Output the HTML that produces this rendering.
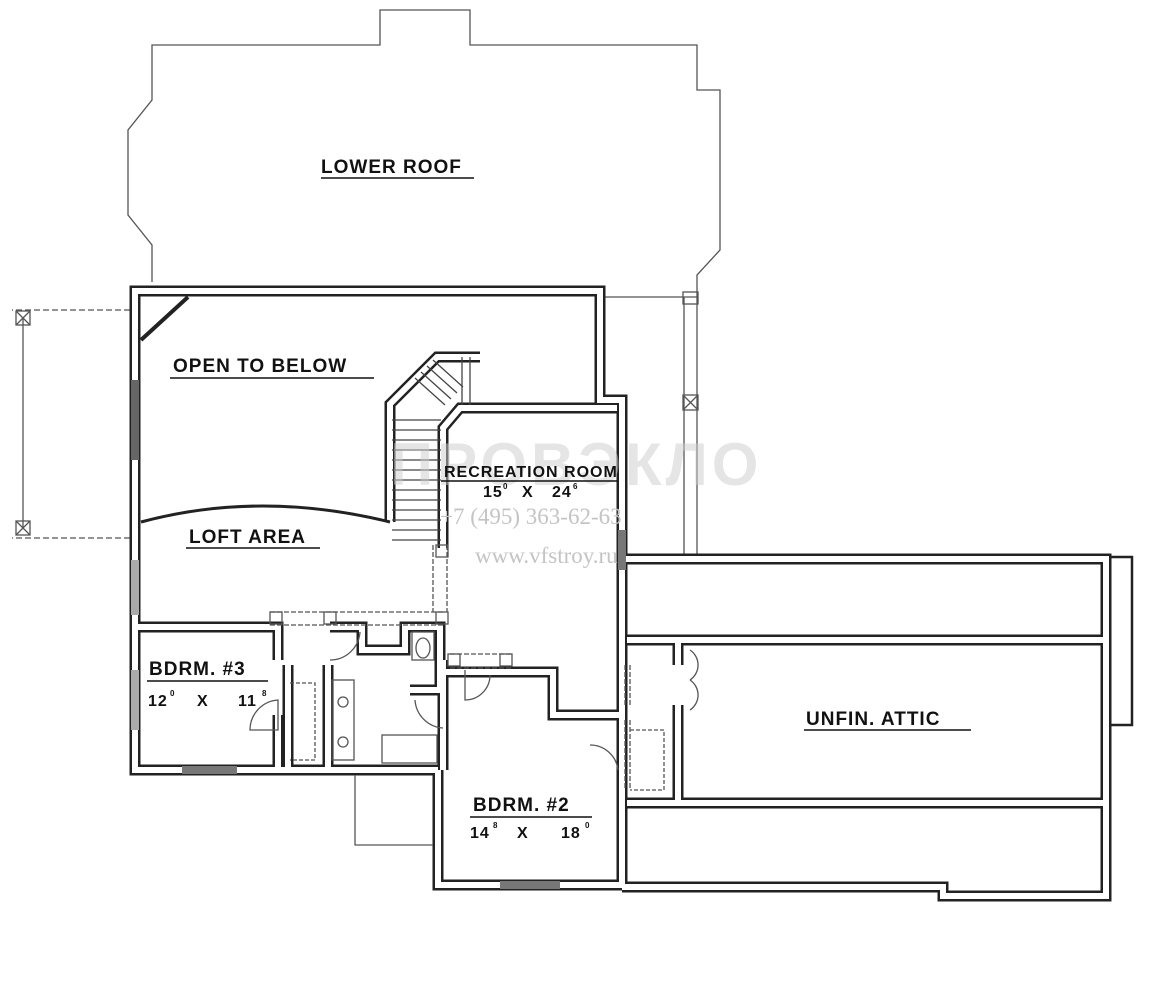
<!DOCTYPE html>
<html><head><meta charset="utf-8"><style>
html,body{margin:0;padding:0;background:#fff}
svg{display:block}
.b{fill:none;stroke:#222;stroke-width:11;stroke-linejoin:miter}
.wt{fill:none;stroke:#fff;stroke-width:6;stroke-linejoin:miter}
.t{fill:none;stroke:#555;stroke-width:1.3}
.l{font-family:"Liberation Sans",sans-serif;font-size:19px;font-weight:bold;fill:#111;letter-spacing:1px}
.s{font-family:"Liberation Sans",sans-serif;font-size:16px;font-weight:bold;fill:#111;letter-spacing:1px}
.sup{font-family:"Liberation Sans",sans-serif;font-size:8px;font-weight:bold;fill:#111}
</style></head><body>
<svg width="1153" height="1000" viewBox="0 0 1153 1000" xmlns="http://www.w3.org/2000/svg">
<defs>
<g id="walls">
<path d="M438,770 H135 V291 H600 V400 H622 V885 H438 V770"/>
<path d="M443,548 V428 L460,408 H617"/>
<path d="M390,522 V404 L437,357 H480"/>
<path d="M622,559 H1106 V896 H943 V887 H622"/>
<path d="M627,640 H1103 M627,803 H1103"/>
<path d="M678,643 V665 M678,705 V800"/>
<path d="M135,627 H278 V660 M278,715 V770"/>
<path d="M288,665 V770 M328,665 V770"/>
<path d="M330,627 H362 V650 H405 V627 H440 V690 H410"/>
<path d="M443,660 V770"/>
<path d="M443,672 H553 V715 H622"/>
</g>
</defs>
<!-- lower roof -->
<path class="t" d="M152,282 V245 L128,215 V130 L152,100 V45 H380 V10 H470 V45 H697 V90 H720 V250 L697,275 V297 H605"/>
<!-- left porch -->
<path class="t" d="M130,310 H12 M130,538 H12" stroke-dasharray="6 3"/>
<path class="t" d="M23,318 V528"/>
<rect x="16" y="311" width="14" height="14" class="t"/><path class="t" d="M16,311 l14,14 M30,311 l-14,14"/>
<rect x="16" y="521" width="14" height="14" class="t"/><path class="t" d="M16,521 l14,14 M30,521 l-14,14"/>
<!-- right posts -->
<path class="t" d="M684,297 V556 M697,297 V556"/>
<rect x="683" y="395" width="15" height="15" class="t"/><path class="t" d="M683,395 l15,15 M698,395 l-15,15"/>
<rect x="683" y="292" width="15" height="12" class="t"/>
<path d="M1110,557 H1132 V725 H1110" fill="none" stroke="#222" stroke-width="2.5"/>
<g class="b"><use href="#walls"/></g>
<g class="wt"><use href="#walls"/></g>
<!-- windows -->
<rect x="131" y="380" width="8" height="80" fill="#666"/>
<rect x="182" y="766" width="55" height="8" fill="#777"/>
<rect x="500" y="881" width="60" height="8" fill="#777"/>
<rect x="618" y="530" width="8" height="40" fill="#777"/>
<rect x="131" y="560" width="8" height="55" fill="#aaa"/>
<rect x="131" y="670" width="8" height="60" fill="#aaa"/>
<!-- diag corner -->
<path d="M141,340 L188,297" stroke="#222" stroke-width="4"/>
<!-- loft curve -->
<path d="M141,522 Q260,490 390,522" fill="none" stroke="#222" stroke-width="3"/>
<!-- stair treads -->
<g stroke="#444" stroke-width="1.3">
<path d="M392,420 H441 M392,430 H441 M392,440 H441 M392,450 H441 M392,460 H441 M392,470 H441 M392,480 H441 M392,490 H441 M392,500 H441 M392,510 H441 M392,520 H441 M392,530 H441 M392,540 H441"/>
<path d="M415,378 L445,405 M421,372 L451,399 M427,366 L457,393 M433,360 L463,387"/>
<path d="M462,357 V405 M470,357 V405"/>
</g>
<!-- dashed openings -->
<path class="t" d="M270,612 H443 M270,625 H443 M433,545 V612 M447,545 V612 M450,654 H512 M450,668 H512" stroke-dasharray="5 2"/>
<path class="t" d="M625,665 V705 M630,665 V705 M625,720 V790 M630,720 V790" stroke-dasharray="5 2"/>
<!-- closets dashed -->
<path class="t" d="M290,683 H315 V760 H290" stroke-dasharray="4 2"/>
<path class="t" d="M630,730 H664 V790 H630" stroke-dasharray="4 2"/>
<!-- doors -->
<g class="t">
<path d="M250,730 A30,30 0 0 1 278,700 V730 Z"/>
<path d="M330,660 A30,30 0 0 0 360,632"/>
<path d="M415,700 A30,30 0 0 0 443,728"/>
<path d="M465,670 V700 A25,25 0 0 0 490,675"/>
<path d="M590,745 A28,28 0 0 1 618,770"/>
<path d="M690,650 A18,18 0 0 1 690,680 M690,680 A18,18 0 0 1 690,710"/>
<rect x="332" y="680" width="22" height="80"/><circle cx="343" cy="702" r="5"/><circle cx="343" cy="742" r="5"/>
<rect x="382" y="735" width="55" height="28"/>
<rect x="412" y="632" width="22" height="28"/><ellipse cx="423" cy="648" rx="7" ry="10"/>
<path d="M355,775 V845 H433"/>
</g>
<!-- posts small -->
<g class="t">
<rect x="270" y="612" width="12" height="12"/><rect x="324" y="612" width="12" height="12"/><rect x="436" y="612" width="12" height="12"/>
<rect x="436" y="545" width="12" height="12"/><rect x="448" y="654" width="12" height="12"/><rect x="500" y="654" width="12" height="12"/>
</g>
<!-- watermark -->
<text x="390" y="485" font-family="Liberation Sans,sans-serif" font-size="60" font-weight="bold" fill="#ccc" opacity="0.5" letter-spacing="4">ПРОВЭКЛО</text>
<text x="440" y="524" font-family="Liberation Serif,serif" font-size="23" fill="#c4c4c4">+7 (495) 363-62-63</text>
<text x="475" y="563" font-family="Liberation Serif,serif" font-size="23" fill="#c4c4c4">www.vfstroy.ru</text>
<!-- labels -->
<text class="l" x="321" y="173">LOWER ROOF</text><path d="M321,178 H474" stroke="#111" stroke-width="1.5"/>
<text class="l" x="173" y="372">OPEN TO BELOW</text><path d="M170,378 H374" stroke="#111" stroke-width="1.5"/>
<text class="l" x="189" y="543">LOFT AREA</text><path d="M186,548 H320" stroke="#111" stroke-width="1.5"/>
<text class="s" x="444" y="477" font-size="14">RECREATION ROOM</text><path d="M441,481 H617" stroke="#111" stroke-width="1.5"/>
<text class="s" x="483" y="497" font-size="14">15</text><text class="sup" x="503" y="489">0</text><text class="s" x="522" y="497" font-size="14">X</text><text class="s" x="552" y="497" font-size="14">24</text><text class="sup" x="573" y="489">6</text>
<text class="l" x="149" y="675">BDRM. #3</text><path d="M147,681 H268" stroke="#111" stroke-width="1.5"/>
<text class="s" x="148" y="706">12</text><text class="sup" x="170" y="696">0</text><text class="s" x="197" y="706">X</text><text class="s" x="238" y="706">11</text><text class="sup" x="262" y="696">8</text>
<text class="l" x="473" y="811">BDRM. #2</text><path d="M470,817 H592" stroke="#111" stroke-width="1.5"/>
<text class="s" x="470" y="838">14</text><text class="sup" x="493" y="828">8</text><text class="s" x="517" y="838">X</text><text class="s" x="561" y="838">18</text><text class="sup" x="585" y="828">0</text>
<text class="l" x="806" y="725">UNFIN. ATTIC</text><path d="M804,730 H971" stroke="#111" stroke-width="1.5"/>
</svg>
</body></html>
